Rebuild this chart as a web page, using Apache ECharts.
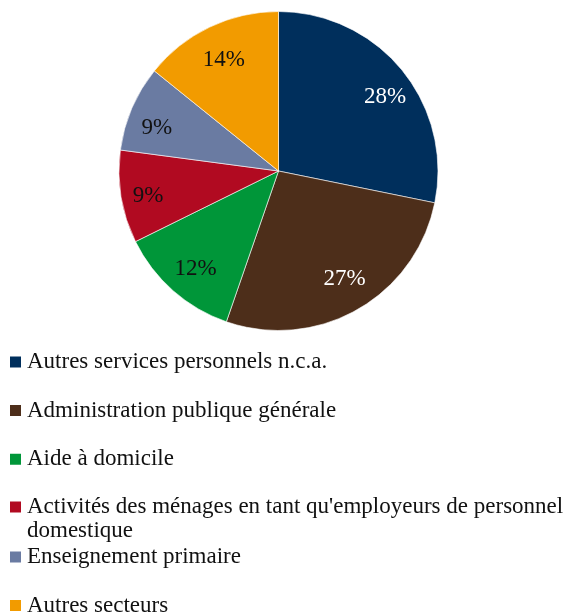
<!DOCTYPE html>
<html><head><meta charset="utf-8">
<script src="https://cdn.jsdelivr.net/npm/echarts@6/dist/echarts.min.js"></script>
<style>html,body{margin:0;padding:0;background:#fff}#c{width:580px;height:614px}</style>
</head><body><div id="c"></div>
<script>
const categories = ["Autres services personnels n.c.a.","Administration publique générale","Aide à domicile","Activités des ménages en tant qu'employeurs de personnel domestique","Enseignement primaire","Autres secteurs"];
const values = [28.2, 27.1, 12.4, 9.4, 8.7, 14.2];
const labels = ["28%","27%","12%","9%","9%","14%"];
const colors = ["#002f5c","#4d2e1a","#009639","#b10a21","#6a7ba2","#f29b00"];
const labelColors = ["#ffffff","#ffffff","#111111","#111111","#111111","#111111"];
const labelOffsets = [[5,9],[1,-6],[4,0],[-1,4],[-1,9],[2,7]];
const FONT = "'Liberation Serif', serif";

const legendText = { fontFamily: FONT, fontSize: 23, color: '#111', lineHeight: 48 };
function legendItem(name) {
  if (name.indexOf(' domestique') > 0) {
    return { name: name, textStyle: { fontFamily: FONT, fontSize: 23, color: '#111', lineHeight: 24 } };
  }
  return { name: name };
}
function legendBase(top, names) {
  return {
    orient: 'vertical', left: 8, top: top, height: 320, padding: 0, itemGap: 0.6,
    itemWidth: 13, itemHeight: 13, icon: 'rect', selectedMode: false,
    data: names.map(legendItem), textStyle: legendText,
    formatter: n => n.indexOf(' domestique') > 0 ? ' \n' + n.replace(' domestique', '\ndomestique') : n
  };
}

const chart = echarts.init(document.getElementById('c'));
chart.setOption({
  animation: false,
  legend: [
    legendBase(338, categories.slice(0, 3)),
    legendBase(471, categories.slice(3, 4)),
    legendBase(533, categories.slice(4))
  ],
  series: [{
    type: 'pie', center: [278.5, 171], radius: [0, 159.5], startAngle: 90, clockwise: true,
    silent: true, label: { show: false }, labelLine: { show: false },
    itemStyle: { borderColor: '#ffffff', borderWidth: 0.6 },
    data: categories.map((n, i) => ({ name: n, value: values[i], itemStyle: { color: colors[i] } }))
  }, {
    type: 'pie', center: [278.5, 171], radius: [97, 159.5], startAngle: 90, clockwise: true,
    silent: true, labelLine: { show: false },
    itemStyle: { color: 'rgba(0,0,0,0)', borderWidth: 0 },
    label: { show: true, position: 'inside', fontFamily: FONT, fontSize: 23,
      formatter: p => labels[p.dataIndex] },
    data: categories.map((n, i) => ({ name: n, value: values[i], label: { color: labelColors[i], offset: labelOffsets[i] } }))
  }]
});
</script></body></html>
